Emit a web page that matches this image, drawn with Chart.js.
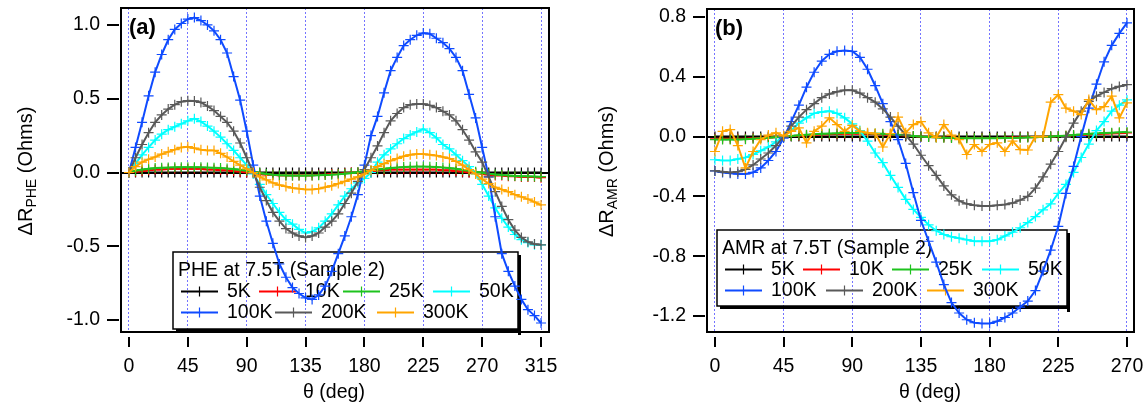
<!DOCTYPE html>
<html lang="en">
<head>
<meta charset="UTF-8">
<title>PHE / AMR at 7.5T</title>
<script src="https://cdn.jsdelivr.net/npm/chart.js"></script>
<style>
  body { margin: 0; background: #fff; }
  .panel { position: absolute; top: 0; }
</style>
</head>
<body>
<canvas id="pheChart" class="panel" width="573" height="408" style="left:0"></canvas>
<canvas id="amrChart" class="panel" width="573" height="408" style="left:573px"></canvas>

<script>
// series labels and colours (same order in both panels)
const temps = ['5K', '10K', '25K', '50K', '100K', '200K', '300K'];
const colors = ['#000000', '#ff0000', '#1ec31e', '#00ffff', '#0f4bff', '#595959', '#ffa500'];

// ---- panel (a): PHE, theta in deg ----
const pheAngles = [0, 5, 10, 15, 20, 25, 30, 35, 40, 45, 50, 55, 60, 65, 70, 75,
    80, 85, 90, 95, 100, 105, 110, 115, 120, 125, 130, 135, 140, 145, 150, 155,
    160, 165, 170, 175, 180, 185, 190, 195, 200, 205, 210, 215, 220, 225, 230, 235,
    240, 245, 250, 255, 260, 265, 270, 275, 280, 285, 290, 295, 300, 305, 310, 315];
const phe5K = [0, 0, 0, 0, 0, 0, 0, 0, 0, 0, 0, 0, 0, 0, 0, 0,
    0, 0, 0, 0, 0, 0, 0, 0, 0, 0, 0, 0, 0, 0, 0, 0,
    0, 0, 0, 0, 0, 0, 0, 0, 0, 0, 0, 0, 0, 0, 0, 0,
    0, 0, 0, 0, 0, 0, 0, 0, 0, 0, 0, 0, 0, 0, 0, 0];
const phe10K = [0, 0.005, 0.01, 0.015, 0.02, 0.02, 0.025, 0.025, 0.025, 0.025, 0.025, 0.025, 0.02, 0.02, 0.015, 0.015,
    0.01, 0.005, 0, -0.005, -0.01, -0.015, -0.015, -0.02, -0.02, -0.02, -0.02, -0.02, -0.02, -0.015, -0.015, -0.01,
    -0.01, -0.005, 0, 0, 0.005, 0.01, 0.015, 0.015, 0.02, 0.02, 0.02, 0.02, 0.02, 0.02, 0.02, 0.02,
    0.015, 0.015, 0.01, 0.005, 0, -0.005, -0.01, -0.015, -0.02, -0.02, -0.025, -0.025, -0.03, -0.03, -0.03, -0.035];
const phe25K = [0, 0.012, 0.02, 0.025, 0.03, 0.032, 0.034, 0.035, 0.036, 0.036, 0.036, 0.035, 0.034, 0.032, 0.03, 0.027,
    0.023, 0.018, 0.012, 0.004, -0.004, -0.01, -0.015, -0.018, -0.02, -0.021, -0.021, -0.021, -0.02, -0.019, -0.017, -0.015,
    -0.012, -0.008, -0.004, 0.002, 0.008, 0.014, 0.02, 0.025, 0.03, 0.034, 0.037, 0.039, 0.04, 0.04, 0.039, 0.037,
    0.034, 0.03, 0.025, 0.019, 0.012, 0.005, -0.002, -0.008, -0.013, -0.017, -0.02, -0.023, -0.025, -0.026, -0.027, -0.028];
const phe50K = [0, 0.06, 0.12, 0.17, 0.22, 0.26, 0.29, 0.31, 0.33, 0.35, 0.365, 0.345, 0.315, 0.28, 0.24, 0.195,
    0.15, 0.10, 0.05, -0.01, -0.08, -0.15, -0.21, -0.27, -0.32, -0.35, -0.385, -0.41, -0.40, -0.375, -0.33, -0.28,
    -0.22, -0.16, -0.11, -0.07, -0.04, 0.0, 0.07, 0.12, 0.16, 0.195, 0.23, 0.255, 0.275, 0.295, 0.27, 0.235,
    0.19, 0.16, 0.12, 0.08, 0.04, -0.01, -0.08, -0.16, -0.24, -0.31, -0.37, -0.42, -0.455, -0.475, -0.49, -0.49];
const phe100K = [0, 0.17, 0.34, 0.52, 0.68, 0.80, 0.90, 0.97, 1.01, 1.04, 1.05, 1.03, 1.00, 0.96, 0.90, 0.81,
    0.65, 0.49, 0.28, 0.05, -0.16, -0.33, -0.48, -0.62, -0.71, -0.78, -0.82, -0.85, -0.86, -0.83, -0.77, -0.67,
    -0.55, -0.43, -0.30, -0.15, 0.05, 0.25, 0.38, 0.54, 0.69, 0.78, 0.86, 0.90, 0.93, 0.945, 0.94, 0.91,
    0.88, 0.84, 0.78, 0.69, 0.53, 0.37, 0.17, -0.03, -0.30, -0.55, -0.67, -0.77, -0.86, -0.93, -0.97, -1.02];
const phe200K = [0, 0.10, 0.19, 0.27, 0.34, 0.39, 0.43, 0.46, 0.48, 0.487, 0.485, 0.475, 0.45, 0.42, 0.38, 0.34,
    0.28, 0.20, 0.10, 0.0, -0.10, -0.19, -0.27, -0.33, -0.38, -0.41, -0.43, -0.44, -0.43, -0.41, -0.37, -0.33,
    -0.28, -0.21, -0.14, -0.06, 0.02, 0.10, 0.18, 0.27, 0.35, 0.40, 0.44, 0.46, 0.465, 0.465, 0.455, 0.44,
    0.415, 0.39, 0.35, 0.29, 0.22, 0.14, 0.07, -0.03, -0.13, -0.23, -0.32, -0.39, -0.44, -0.47, -0.485, -0.49];
const phe300K = [0, 0.04, 0.07, 0.09, 0.105, 0.125, 0.14, 0.155, 0.17, 0.175, 0.165, 0.155, 0.15, 0.15, 0.13, 0.105,
    0.075, 0.05, 0.025, 0.0, -0.03, -0.05, -0.07, -0.085, -0.095, -0.105, -0.11, -0.115, -0.115, -0.11, -0.10, -0.09,
    -0.075, -0.06, -0.045, -0.03, -0.01, 0.015, 0.04, 0.06, 0.08, 0.095, 0.11, 0.12, 0.125, 0.125, 0.12, 0.115,
    0.105, 0.095, 0.075, 0.05, 0.02, -0.01, -0.045, -0.075, -0.10, -0.115, -0.13, -0.15, -0.165, -0.18, -0.20, -0.22];
const pheXTicks = [0, 45, 90, 135, 180, 225, 270, 315];
const pheYTicks = [-1.0, -0.5, 0.0, 0.5, 1.0];

// ---- panel (b): AMR ----
const amrAngles = [0, 5, 10, 15, 20, 25, 30, 35, 40, 45, 50, 55, 60, 65, 70, 75,
    80, 85, 90, 95, 100, 105, 110, 115, 120, 125, 130, 135, 140, 145, 150, 155,
    160, 165, 170, 175, 180, 185, 190, 195, 200, 205, 210, 215, 220, 225, 230, 235,
    240, 245, 250, 255, 260, 265, 270];
const amr5K = [0, 0, 0, 0, 0, 0, 0, 0, 0, 0, 0, 0, 0, 0, 0, 0,
    0, 0, 0, 0, 0, 0, 0, 0, 0, 0, 0, 0, 0, 0, 0, 0,
    0, 0, 0, 0, 0, 0, 0, 0, 0, 0, 0, 0, 0, 0, 0, 0,
    0, 0, 0, 0, 0, 0, 0];
const amr10K = [-0.015, -0.015, -0.015, -0.015, -0.014, -0.012, -0.01, -0.007, -0.004, 0, 0.003, 0.006, 0.009, 0.012, 0.014, 0.016,
    0.017, 0.018, 0.019, 0.018, 0.017, 0.016, 0.014, 0.012, 0.01, 0.007, 0.004, 0.0, -0.003, -0.005, -0.007, -0.008,
    -0.009, -0.01, -0.01, -0.01, -0.01, -0.009, -0.008, -0.007, -0.006, -0.005, -0.004, -0.002, 0.0, 0.002, 0.005, 0.008,
    0.011, 0.014, 0.017, 0.019, 0.021, 0.022, 0.024];
const amr25K = [-0.02, -0.02, -0.02, -0.02, -0.018, -0.015, -0.012, -0.008, -0.004, 0.0, 0.004, 0.008, 0.012, 0.015, 0.018, 0.02,
    0.022, 0.023, 0.024, 0.023, 0.022, 0.02, 0.018, 0.015, 0.012, 0.008, 0.004, 0.0, -0.003, -0.006, -0.008, -0.01,
    -0.011, -0.012, -0.012, -0.012, -0.012, -0.011, -0.01, -0.009, -0.008, -0.006, -0.004, -0.002, 0.0, 0.003, 0.006, 0.01,
    0.014, 0.018, 0.021, 0.024, 0.026, 0.028, 0.03];
const amr50K = [-0.155, -0.16, -0.16, -0.15, -0.14, -0.12, -0.095, -0.07, -0.035, 0.0, 0.04, 0.09, 0.125, 0.155, 0.165, 0.17,
    0.155, 0.125, 0.085, 0.04, -0.03, -0.11, -0.175, -0.26, -0.34, -0.42, -0.487, -0.54, -0.59, -0.63, -0.655, -0.67,
    -0.68, -0.69, -0.70, -0.70, -0.70, -0.69, -0.665, -0.64, -0.61, -0.575, -0.535, -0.49, -0.45, -0.38, -0.32, -0.24,
    -0.14, -0.05, 0.04, 0.10, 0.17, 0.21, 0.245];
const amr100K = [-0.23, -0.24, -0.245, -0.25, -0.25, -0.24, -0.21, -0.16, -0.10, -0.01, 0.10, 0.21, 0.33, 0.43, 0.505, 0.55,
    0.57, 0.575, 0.57, 0.53, 0.45, 0.34, 0.22, 0.10, -0.02, -0.18, -0.375, -0.56, -0.70, -0.84, -0.99, -1.11,
    -1.18, -1.225, -1.245, -1.25, -1.25, -1.235, -1.21, -1.18, -1.14, -1.10, -1.03, -0.90, -0.76, -0.60, -0.38, -0.20,
    0.0, 0.19, 0.35, 0.50, 0.61, 0.69, 0.76];
const amr200K = [-0.23, -0.235, -0.24, -0.235, -0.22, -0.19, -0.15, -0.11, -0.06, 0.0, 0.07, 0.13, 0.18, 0.22, 0.26, 0.285,
    0.30, 0.31, 0.31, 0.29, 0.26, 0.23, 0.185, 0.13, 0.07, 0.01, -0.05, -0.125, -0.195, -0.26, -0.33, -0.39,
    -0.43, -0.45, -0.46, -0.465, -0.465, -0.46, -0.455, -0.445, -0.425, -0.40, -0.345, -0.27, -0.185, -0.10, -0.005, 0.09,
    0.17, 0.235, 0.27, 0.295, 0.32, 0.335, 0.347];
const amr300K = [-0.10, 0.035, 0.047, -0.06, -0.21, -0.10, -0.02, 0.01, 0.025, 0.005, 0.035, 0.058, -0.042, 0.035, 0.07, 0.125,
    0.08, 0.035, 0.075, 0.035, 0.025, 0.02, -0.07, 0.02, 0.13, 0.025, 0.08, 0.10, 0.025, -0.005, 0.08, 0.01,
    -0.02, -0.12, -0.053, -0.10, -0.053, -0.042, -0.10, -0.03, -0.087, -0.09, 0.0, 0.0, 0.23, 0.28, 0.19, 0.17,
    0.147, 0.247, 0.18, 0.20, 0.27, 0.125, 0.225];
const amrXTicks = [0, 45, 90, 135, 180, 225, 270];
const amrYTicks = [-1.2, -0.8, -0.4, 0.0, 0.4, 0.8];

const FONT = "'Liberation Sans', Arial, sans-serif";

function drawLegend(chart, o) {
    const ctx = chart.ctx;
    const L = o.box;
    ctx.save();
    ctx.fillStyle = '#000';
    ctx.fillRect(L.x + 3, L.y + L.h, L.w, 3);
    ctx.fillRect(L.x + L.w, L.y + 3, 3, L.h + 3);
    ctx.strokeStyle = '#000';
    ctx.lineWidth = 1.5;
    ctx.strokeRect(L.x, L.y, L.w, L.h);
    ctx.font = '19.5px ' + FONT;
    ctx.textAlign = 'left';
    ctx.textBaseline = 'alphabetic';
    ctx.fillText(o.title, L.x + 5, L.y + 23.5);
    chart.data.datasets.forEach((ds, i) => {
        const row = i < 4 ? 0 : 1;
        const col = i < 4 ? i : i - 4;
        const ox = L.x + L.cols[row][col];
        const base = L.y + (row ? 66 : 45);
        const ly = base - 5.5;
        ctx.strokeStyle = ds.borderColor;
        ctx.lineWidth = 2;
        ctx.beginPath();
        ctx.moveTo(ox, ly); ctx.lineTo(ox + 37, ly);
        ctx.stroke();
        ctx.lineWidth = 1.2;
        ctx.beginPath();
        ctx.moveTo(ox + 18.5, ly - 5); ctx.lineTo(ox + 18.5, ly + 5);
        ctx.stroke();
        ctx.fillStyle = '#000';
        ctx.fillText(ds.label, ox + 46, base);
    });
    ctx.restore();
}

const panelDecor = {
    id: 'panelDecor',
    beforeDatasetsDraw(chart, args, opts) {
        drawLegend(chart, opts.legend);
    },
    afterDraw(chart, args, opts) {
        const ctx = chart.ctx, a = chart.chartArea;
        const xs = chart.scales.x, ys = chart.scales.y;
        ctx.save();
        ctx.strokeStyle = '#000';
        ctx.lineWidth = 2;
        ctx.strokeRect(a.left, a.top, a.right - a.left, a.bottom - a.top);
        // tick marks
        ctx.beginPath();
        xs.ticks.forEach(t => {
            const px = Math.round(xs.getPixelForValue(t.value));
            ctx.moveTo(px, a.bottom + 5);
            ctx.lineTo(px, a.bottom + 15);
        });
        ys.ticks.forEach(t => {
            const py = Math.round(ys.getPixelForValue(t.value));
            ctx.moveTo(a.left - 14, py);
            ctx.lineTo(a.left - 2, py);
        });
        ctx.stroke();

        ctx.fillStyle = '#000';
        ctx.textBaseline = 'alphabetic';
        ctx.font = 'bold 22px ' + FONT;
        ctx.textAlign = 'left';
        ctx.fillText(opts.letter, a.left + 8, a.top + 25.5);

        ctx.font = '19.5px ' + FONT;
        ctx.textAlign = 'center';
        ctx.fillText('θ (deg)', (a.left + a.right) / 2 + opts.xTitleShift, 398);

        // y title with subscript
        ctx.translate(opts.yTitleX, (a.top + a.bottom) / 2 + 1);
        ctx.rotate(-Math.PI / 2);
        ctx.textAlign = 'left';
        ctx.font = '20px ' + FONT;
        const w1 = ctx.measureText('ΔR').width;
        const w3 = ctx.measureText(' (Ohms)').width;
        ctx.font = '14px ' + FONT;
        const w2 = ctx.measureText(opts.sub).width;
        let x = -(w1 + w2 + w3) / 2;
        ctx.font = '20px ' + FONT;
        ctx.fillText('ΔR', x, 0);
        x += w1;
        ctx.font = '14px ' + FONT;
        ctx.fillText(opts.sub, x, 4);
        x += w2;
        ctx.font = '20px ' + FONT;
        ctx.fillText(' (Ohms)', x, 0);
        ctx.restore();
    }
};

function makeChart(id, angles, series, xTicks, yTicks, xMin, xMax, yMin, yMax, yWidth, pad, decor) {
    return new Chart(document.getElementById(id), {
        type: 'line',
        data: {
            datasets: series.map((vals, i) => ({
                label: temps[i],
                data: angles.map((a, k) => ({ x: a, y: vals[k] })),
                borderColor: colors[i],
                backgroundColor: colors[i],
                borderWidth: 2,
                pointStyle: 'cross',
                pointRadius: 5,
                pointBorderWidth: 1.2,
                pointBorderColor: colors[i],
                tension: 0,
                fill: false,
                order: series.length - i
            }))
        },
        options: {
            responsive: false,
            animation: false,
            events: [],
            layout: { padding: pad, autoPadding: false },
            plugins: {
                legend: { display: false },
                tooltip: { enabled: false },
                panelDecor: decor
            },
            scales: {
                x: {
                    type: 'linear',
                    bounds: 'data',
                    min: xMin,
                    max: xMax,
                    afterBuildTicks: s => { s.ticks = xTicks.map(v => ({ value: v })); },
                    afterFit: s => { s.height = 76; s.paddingLeft = 0; s.paddingRight = 0; },
                    grid: { color: '#7474ff', lineWidth: 1, drawTicks: false },
                    border: { display: false, dash: [2, 2] },
                    ticks: { autoSkip: false, maxRotation: 0, padding: 23, color: '#000',
                             font: { family: FONT, size: 19.5 } }
                },
                y: {
                    type: 'linear',
                    bounds: 'data',
                    min: yMin,
                    max: yMax,
                    afterBuildTicks: s => { s.ticks = yTicks.map(v => ({ value: v })); },
                    afterFit: s => { s.width = yWidth; s.paddingTop = 0; s.paddingBottom = 0; },
                    grid: {
                        color: c => (c.tick && c.tick.value === 0) ? '#000' : 'rgba(0,0,0,0)',
                        lineWidth: 2,
                        drawTicks: false
                    },
                    border: { display: false },
                    ticks: { padding: 21, color: '#000', font: { family: FONT, size: 19.5 },
                             callback: v => v.toFixed(1) }
                }
            }
        },
        plugins: [panelDecor]
    });
}

makeChart('pheChart', pheAngles,
    [phe5K, phe10K, phe25K, phe50K, phe100K, phe200K, phe300K],
    pheXTicks, pheYTicks, -6.1, 321.1, -1.081, 1.115, 121,
    { top: 8, right: 24, left: 0, bottom: 0 },
    {
        letter: '(a)', sub: 'PHE', yTitleX: 32, xTitleShift: -1,
        legend: {
            title: 'PHE at 7.5T (Sample 2)',
            box: { x: 173, y: 252, w: 345, h: 77, cols: [[8, 86, 170, 260], [8, 102, 204]] }
        }
    });

makeChart('amrChart', amrAngles,
    [amr5K, amr10K, amr25K, amr50K, amr100K, amr200K, amr300K],
    amrXTicks, amrYTicks, -5.2, 274.6, -1.307, 0.853, 134,
    { top: 9, right: 12, left: 0, bottom: 0 },
    {
        letter: '(b)', sub: 'AMR', yTitleX: 40, xTitleShift: 9.5,
        legend: {
            title: 'AMR at 7.5T (Sample 2)',
            box: { x: 144, y: 230, w: 350, h: 76, cols: [[8, 86, 175, 265], [8, 109, 210]] }
        }
    });
</script>
</body>
</html>
